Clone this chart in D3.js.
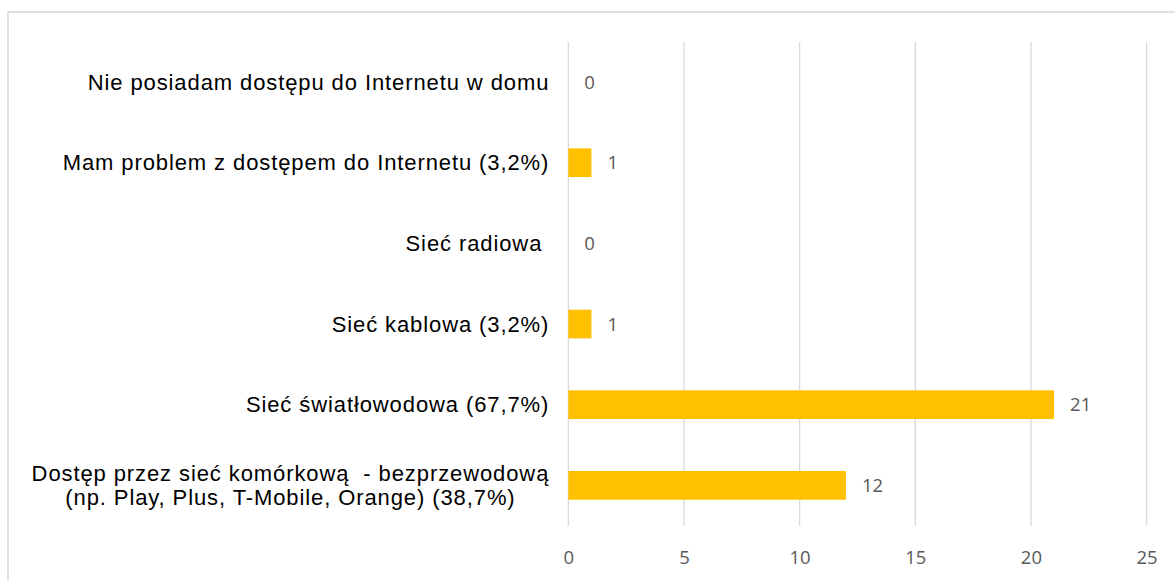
<!DOCTYPE html>
<html>
<head>
<meta charset="utf-8">
<script src="https://cdn.jsdelivr.net/npm/d3@7"></script>
<style>
  body { margin: 0; background: #fff; }
  .cat { font-family: "Liberation Sans", Arial, sans-serif; font-size: 22px; letter-spacing: 0.9px; fill: #000; white-space: pre; }
  .num { font-family: "Open Sans", "Noto Sans", sans-serif; font-size: 18.5px; fill: #595959; }
</style>
</head>
<body>
<script>
var categories = [
  ['Nie posiadam dostępu do Internetu w domu'],
  ['Mam problem z dostępem do Internetu (3,2%)'],
  ['Sieć radiowa '],
  ['Sieć kablowa (3,2%)'],
  ['Sieć światłowodowa (67,7%)'],
  ['Dostęp przez sieć komórkową  - bezprzewodową', '(np. Play, Plus, T-Mobile, Orange) (38,7%)']
];
var values = [0, 1, 0, 1, 21, 12];
var xTicks = [0, 5, 10, 15, 20, 25];

var W = 1175, H = 580;
var plot = {left: 568.3, right: 1146.6, top: 41.7, bottom: 525.7};

var svg = d3.select('body').append('svg')
  .attr('width', W)
  .attr('height', H);

// chart frame (only top and left edges are inside the picture)
svg.append('rect')
  .attr('x', 8).attr('y', 12)
  .attr('width', W + 20).attr('height', H + 20)
  .attr('fill', 'none')
  .attr('stroke', '#d9d9d9')
  .attr('stroke-width', 1.6);

var x = d3.scaleLinear().domain([0, 25]).range([plot.left, plot.right]);
var y = d3.scaleBand()
  .domain(d3.range(categories.length))
  .range([plot.top, plot.bottom])
  .paddingInner(0.644)
  .paddingOuter(0.322);

// vertical grid
svg.append('g').selectAll('line')
  .data(xTicks)
  .enter().append('line')
  .attr('x1', function(d) { return x(d); })
  .attr('x2', function(d) { return x(d); })
  .attr('y1', plot.top)
  .attr('y2', plot.bottom)
  .attr('stroke', '#d9d9d9')
  .attr('stroke-width', 1.3);

// x axis labels
var xAxis = d3.axisBottom(x).tickValues(xTicks).tickSize(0).tickPadding(0);
var gx = svg.append('g')
  .attr('transform', 'translate(0,' + (plot.bottom + 31.5) + ')')
  .call(xAxis);
gx.select('.domain').remove();
gx.selectAll('text')
  .attr('class', 'num')
  .attr('dy', '0.35em')
  .attr('fill', null);

// bars
svg.append('g').selectAll('rect')
  .data(values)
  .enter().append('rect')
  .attr('x', x(0))
  .attr('y', function(d, i) { return y(i); })
  .attr('width', function(d) { return x(d) - x(0); })
  .attr('height', y.bandwidth())
  .attr('fill', '#ffc000');

// value labels
svg.append('g').selectAll('text')
  .data(values)
  .enter().append('text')
  .attr('class', 'num')
  .attr('x', function(d) { return x(d) + 16; })
  .attr('y', function(d, i) { return y(i) + y.bandwidth() / 2; })
  .attr('dy', '0.35em')
  .text(function(d) { return d; });

// category labels
var labelRight = plot.left - 19;
var lineH = 24;
categories.forEach(function(lines, i) {
  var cy = y(i) + y.bandwidth() / 2;
  var t = svg.append('text')
    .attr('class', 'cat')
    .attr('text-anchor', lines.length > 1 ? 'middle' : 'end');
  lines.forEach(function(s, j) {
    t.append('tspan')
      .attr('x', labelRight)
      .attr('y', cy + (j - (lines.length - 1) / 2) * lineH)
      .attr('dy', '0.35em')
      .text(s);
  });
  if (lines.length > 1) {
    // centre the wrapped lines on the widest one, right edge at labelRight
    var w = t.node().getBBox().width;
    t.selectAll('tspan').attr('x', labelRight - w / 2);
  }
});
</script>
</body>
</html>
